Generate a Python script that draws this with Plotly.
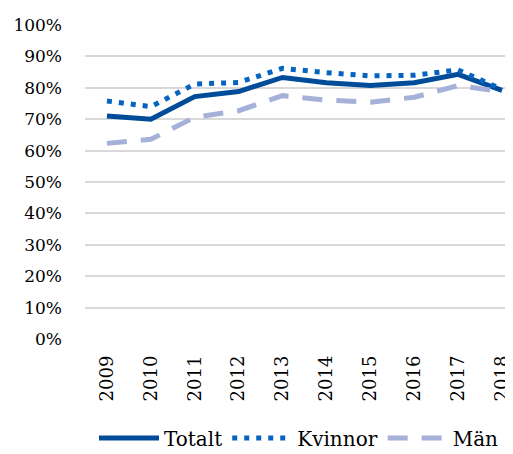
import plotly.graph_objects as go

years = ['2009', '2010', '2011', '2012', '2013', '2014', '2015', '2016', '2017', '2018']
totalt = [0.710, 0.700, 0.772, 0.788, 0.833, 0.816, 0.807, 0.816, 0.843, 0.792]
kvinnor = [0.758, 0.740, 0.812, 0.817, 0.862, 0.848, 0.838, 0.840, 0.857, 0.795]
man = [0.623, 0.636, 0.706, 0.727, 0.775, 0.761, 0.754, 0.770, 0.807, 0.788]

font = 'DejaVu Serif'

fig = go.Figure()

fig.add_trace(go.Scatter(
    x=years, y=totalt, name='Totalt', mode='lines',
    line=dict(color='#004C99', width=5)
))
fig.add_trace(go.Scatter(
    x=years, y=kvinnor, name='Kvinnor', mode='lines',
    line=dict(color='#0563C1', width=5, dash='5px,7px')
))
fig.add_trace(go.Scatter(
    x=years, y=man, name='Män', mode='lines',
    line=dict(color='#A5B1D8', width=5, dash='20px,14px')
))

# page body has an 8px margin, so the figure is 8px smaller on each axis
fig.update_layout(
    width=505, height=446,
    margin=dict(l=77, r=0, t=17, b=115, autoexpand=False),
    paper_bgcolor='white', plot_bgcolor='white',
    font=dict(family=font, size=17, color='#000000'),
    showlegend=True,
    legend=dict(
        orientation='h', x=0.5, xanchor='center',
        y=-0.315, yanchor='middle',
        font=dict(size=20), itemwidth=60, tracegroupgap=0
    ),
    xaxis=dict(
        type='category', range=[-0.5, 9.25], automargin=False,
        tickangle=-90, showgrid=False, zeroline=False, showline=False,
        ticks='', tickfont=dict(size=18), ticklabelstandoff=12
    ),
    yaxis=dict(
        range=[0, 1.0], dtick=0.1, tickformat='.0%', automargin=False,
        showgrid=True, gridcolor='#D9D9D9', gridwidth=1.8,
        zeroline=False, showline=False, ticks='',
        ticklabelstandoff=22
    ),
)

fig.write_html('out.html')
